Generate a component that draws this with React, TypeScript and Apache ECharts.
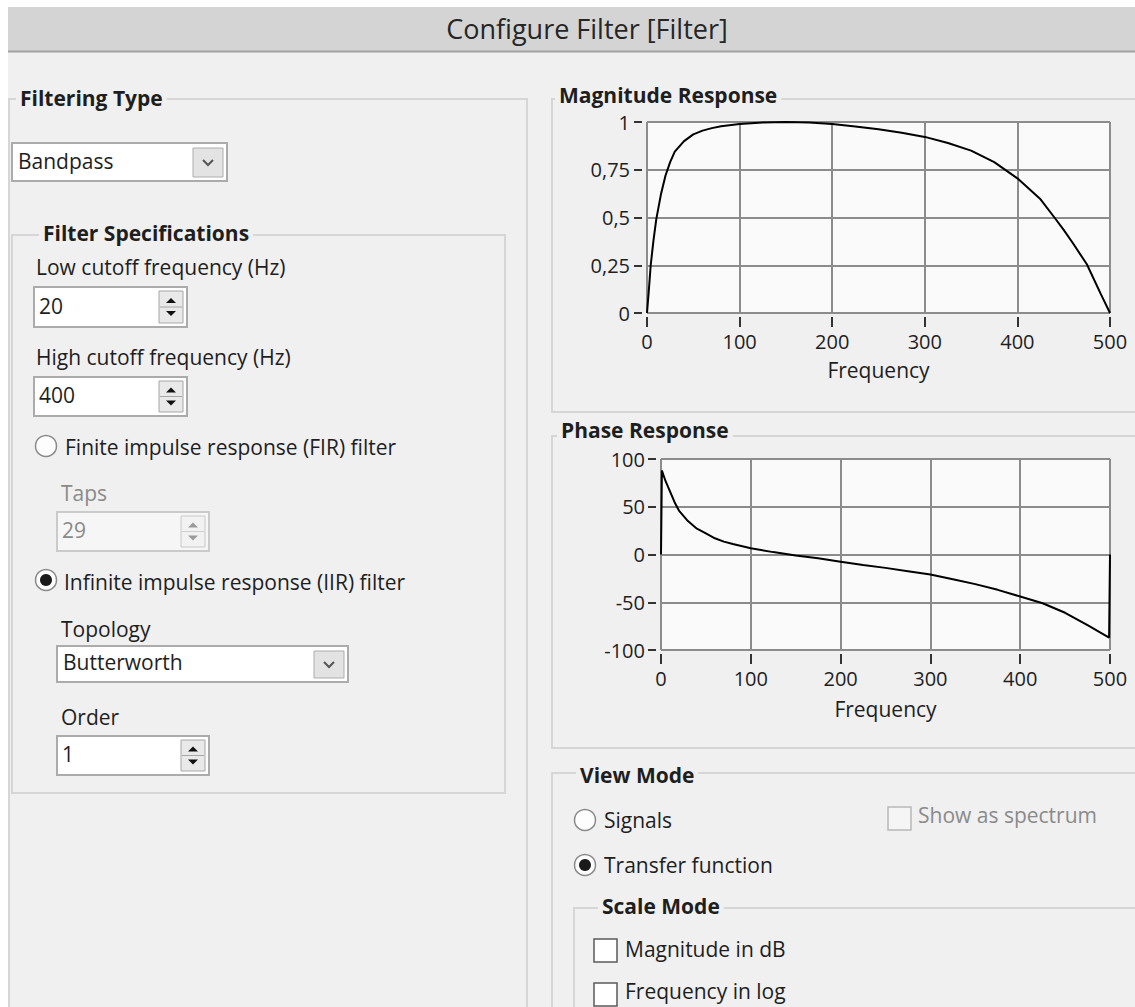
import React, { useEffect, useRef } from "react";
import * as echarts from "echarts";

// ---- data ----
const magFreq = [0, 2, 4, 7, 10, 15, 20, 25, 30, 40, 50, 60, 70, 80, 100, 125, 150, 175, 200, 225, 250, 275, 300, 325, 350, 375, 400, 425, 440, 450, 460, 475, 490, 500];
const magValues = [0, 0.12, 0.25, 0.38, 0.49, 0.62, 0.72, 0.79, 0.845, 0.9, 0.935, 0.955, 0.968, 0.978, 0.99, 0.997, 1.0, 0.997, 0.99, 0.977, 0.962, 0.944, 0.922, 0.89, 0.85, 0.79, 0.705, 0.595, 0.5, 0.435, 0.365, 0.255, 0.1, 0];
const phaseFreq = [0, 1, 5, 10, 15, 20, 30, 40, 50, 60, 70, 80, 100, 125, 150, 175, 200, 225, 250, 275, 300, 325, 350, 375, 400, 425, 450, 475, 499, 500];
const phaseValues = [0, 88, 77, 66, 55, 46, 35, 27, 22, 17, 13.5, 11, 6.5, 2.5, -1, -4, -7.5, -11, -14, -17.5, -21, -26, -31, -37, -44, -51, -61, -74, -87, 0];
const freqTicks = [0, 100, 200, 300, 400, 500];
const magTicks = [0, 0.25, 0.5, 0.75, 1];
const phaseTicks = [-100, -50, 0, 50, 100];

const F = '"Open Sans", "Noto Sans", sans-serif';
const BG = "#f0f0f0";
const TXT = "#1e1e1e";
const GRAY_TXT = "#8a8a8a";
const BOX = "#d6d6d6";

function buildGraphics() {
  const g: any[] = [];
  const rect = (x: number, y: number, w: number, h: number, fill: string, stroke?: string, lw = 1) =>
    g.push({ type: "rect", silent: true, shape: { x, y, width: w, height: h }, style: { fill, stroke: stroke || null, lineWidth: lw } });
  const line = (x1: number, y1: number, x2: number, y2: number, stroke: string, lw = 2) =>
    g.push({ type: "line", silent: true, shape: { x1, y1, x2, y2 }, style: { stroke, lineWidth: lw } });
  const text = (s: string, x: number, base: number, o: any = {}) => {
    const size = o.size || 21;
    const st: any = {
      text: s,
      fill: o.color || TXT,
      fontSize: size,
      fontFamily: F,
      fontWeight: o.bold ? "bold" : "normal",
      align: o.align || "left",
      textAlign: o.align || "left",
      verticalAlign: "middle",
      textVerticalAlign: "middle",
    };
    if (o.bg) {
      st.backgroundColor = o.bg;
      st.padding = [0, 4, 0, 4];
    }
    g.push({ type: "text", silent: true, x: o.bg ? x - 4 : x, y: base - size * 0.36, style: st });
  };
  const chevron = (cx: number, cy: number) =>
    g.push({ type: "polyline", silent: true, shape: { points: [[cx - 5, cy - 3], [cx, cy + 2], [cx + 5, cy - 3]] }, style: { stroke: "#555", lineWidth: 2, fill: null } });
  const tri = (pts: number[][], fill: string) => g.push({ type: "polygon", silent: true, shape: { points: pts }, style: { fill } });
  const spinner = (x: number, y: number, w: number, h: number, disabled = false) => {
    rect(x, y, w, h, disabled ? "#f2f2f2" : "#e9e9e9", disabled ? "#c8c8c8" : "#a6a6a6", 1);
    const m = y + h / 2;
    line(x + 1, m, x + w - 1, m, disabled ? "#cfcfcf" : "#a6a6a6", 1);
    const cx = x + w / 2;
    const c = disabled ? "#9a9a9a" : "#111";
    tri([[cx - 5, m - 4], [cx + 5, m - 4], [cx, m - 9]], c);
    tri([[cx - 5, m + 4], [cx + 5, m + 4], [cx, m + 9]], c);
  };
  const numeric = (x: number, y: number, w: number, h: number, val: string, disabled = false) => {
    rect(x, y, w, h, disabled ? "#f6f6f6" : "#ffffff", disabled ? "#cacaca" : "#ababab", 2);
    spinner(x + w - 28, y + 4, 24, h - 8, disabled);
    text(val, x + 5, y + h - 13, { color: disabled ? GRAY_TXT : TXT });
  };
  const dropdown = (x: number, y: number, w: number, h: number, val: string) => {
    rect(x, y, w, h, "#ffffff", "#ababab", 2);
    rect(x + w - 34, y + 5, 30, h - 9, "#e3e3e3", "#adadad", 1);
    chevron(x + w - 19, y + h / 2 + 1);
    text(val, x + 6, y + h - 12);
  };
  const radio = (cx: number, cy: number, on: boolean) => {
    g.push({ type: "circle", silent: true, shape: { cx, cy, r: 10.5 }, style: { fill: "#fdfdfd", stroke: "#8a8a8a", lineWidth: 1.5 } });
    if (on) g.push({ type: "circle", silent: true, shape: { cx, cy, r: 6 }, style: { fill: "#1a1a1a" } });
  };
  const checkbox = (x: number, y: number, disabled = false) =>
    rect(x, y, 23, 23, disabled ? "#f5f5f5" : "#ffffff", disabled ? "#b8b8b8" : "#5a5a5a", 1.5);

  // page margins (white) and title bar
  rect(0, 0, 1135, 7, "#ffffff");
  rect(0, 0, 8, 1007, "#ffffff");
  rect(8, 7, 1127, 44, "#d4d4d4");
  line(8, 51.5, 1135, 51.5, "#a2a2a2", 2);
  text("Configure Filter [Filter]", 587, 38, { size: 27, align: "center", color: "#262626" });

  // group boxes
  const box = (x: number, y: number, x2: number, y2: number) => {
    g.push({ type: "rect", silent: true, shape: { x, y, width: x2 - x, height: y2 - y }, style: { fill: null, stroke: BOX, lineWidth: 2 } });
  };
  box(9, 99, 527, 1040);
  box(12, 235, 505, 793);
  box(552, 99, 1160, 412);
  box(552, 436, 1160, 748);
  box(552, 773, 1160, 1040);
  box(574, 908, 1160, 1040);

  const B = { bold: true, size: 21, bg: BG };
  text("Filtering Type", 20, 106, B);
  text("Filter Specifications", 43, 241, B);
  text("Magnitude Response", 559, 103, B);
  text("Phase Response", 561, 438, B);
  text("View Mode", 580, 783, B);
  text("Scale Mode", 602, 914, B);

  // left column controls
  dropdown(12, 143, 215, 38, "Bandpass");
  text("Low cutoff frequency (Hz)", 36, 275);
  numeric(34, 287, 153, 40, "20");
  text("High cutoff frequency (Hz)", 36, 365);
  numeric(34, 377, 153, 39, "400");
  radio(46, 446, false);
  text("Finite impulse response (FIR) filter", 65, 455);
  text("Taps", 61, 501, { color: GRAY_TXT });
  numeric(57, 512, 152, 39, "29", true);
  radio(46, 580, true);
  text("Infinite impulse response (IIR) filter", 64, 590);
  text("Topology", 61, 637);
  dropdown(57, 646, 291, 36, "Butterworth");
  text("Order", 61, 725);
  numeric(57, 736, 152, 39, "1");

  // view mode
  radio(585, 820, false);
  text("Signals", 604, 828);
  radio(585, 865, true);
  text("Transfer function", 604, 873);
  checkbox(888, 807, true);
  text("Show as spectrum", 918, 823, { color: GRAY_TXT });
  checkbox(594, 939);
  text("Magnitude in dB", 625, 957);
  checkbox(594, 983);
  text("Frequency in log", 625, 999);
  return g;
}

const GRID_LINE = { show: true, lineStyle: { color: "#8c8c8c", width: 2 } };
const labelStyle = { color: TXT, fontFamily: F, fontSize: 20 };
const fmtComma = (v: number) => String(v).replace(".", ",");

function xAxisFor(gridIndex: number, nameGap: number) {
  return {
    type: "value",
    gridIndex,
    position: "bottom",
    min: freqTicks[0],
    max: freqTicks[freqTicks.length - 1],
    interval: freqTicks[1] - freqTicks[0],
    offset: 4,
    axisLine: { show: false, onZero: false },
    axisTick: { show: true, length: 10, lineStyle: { color: "#333", width: 2 } },
    axisLabel: { ...labelStyle, margin: 14 },
    splitLine: GRID_LINE,
    name: "Frequency",
    nameLocation: "middle",
    nameGap,
    nameTextStyle: { color: TXT, fontFamily: F, fontSize: 21 },
  };
}

function yAxisFor(gridIndex: number, ticks: number[], margin: number, fmt?: (v: number) => string) {
  return {
    type: "value",
    gridIndex,
    position: "left",
    min: ticks[0],
    max: ticks[ticks.length - 1],
    interval: ticks[1] - ticks[0],
    offset: 5,
    axisLine: { show: false, onZero: false },
    axisTick: { show: true, length: 8, lineStyle: { color: "#333", width: 2 } },
    axisLabel: { ...labelStyle, margin, formatter: fmt },
    splitLine: GRID_LINE,
  };
}

export default function App() {
  const ref = useRef<HTMLDivElement>(null);
  useEffect(() => {
    if (!ref.current) return;
    const chart = echarts.init(ref.current, null, { renderer: "svg" });
    chart.setOption({
      animation: false,
      backgroundColor: BG,
      grid: [
        { left: 647, top: 122, width: 463, height: 191, show: true, backgroundColor: "#fafafa", borderWidth: 0 },
        { left: 661, top: 459, width: 449, height: 191, show: true, backgroundColor: "#fafafa", borderWidth: 0 },
      ],
      xAxis: [xAxisFor(0, 42), xAxisFor(1, 44)],
      yAxis: [yAxisFor(0, magTicks, 12, fmtComma), yAxisFor(1, phaseTicks, 11)],
      series: [
        {
          type: "line",
          xAxisIndex: 0,
          yAxisIndex: 0,
          showSymbol: false,
          smooth: false,
          lineStyle: { color: "#000", width: 2 },
          data: magFreq.map((f, i) => [f, magValues[i]]),
        },
        {
          type: "line",
          xAxisIndex: 1,
          yAxisIndex: 1,
          showSymbol: false,
          smooth: false,
          lineStyle: { color: "#000", width: 2 },
          data: phaseFreq.map((f, i) => [f, phaseValues[i]]),
        },
      ],
      graphic: { elements: buildGraphics() },
    });
    return () => chart.dispose();
  }, []);
  return <div ref={ref} style={{ position: "absolute", left: 0, top: 0, width: 1135, height: 1007 }} />;
}
